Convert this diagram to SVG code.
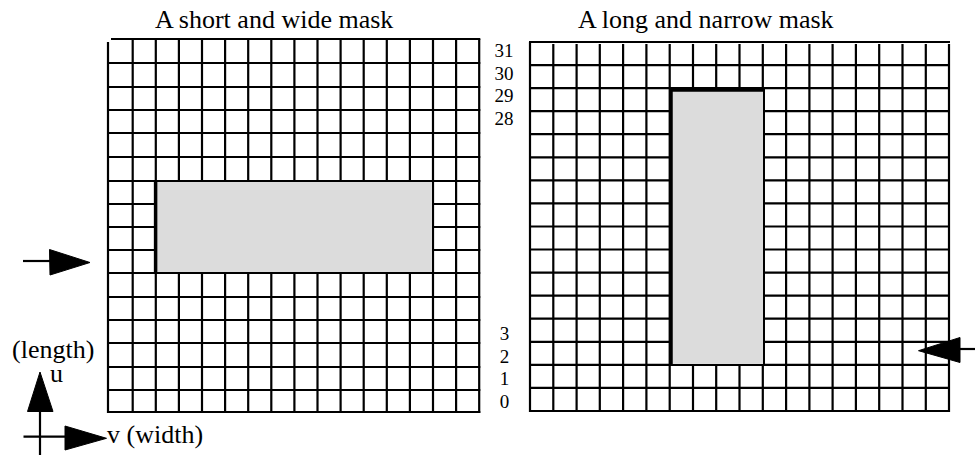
<svg xmlns="http://www.w3.org/2000/svg" width="975" height="455" viewBox="0 0 975 455">
<style>
.g{fill:none;stroke:#000;stroke-width:2.2}
.t{font-family:"Liberation Serif","Times New Roman",serif;fill:#000}
.title{font-size:26px}
.num{font-size:19px;text-anchor:middle}
.lab{font-size:26px}
.mask{fill:#dcdcdc;stroke:#000;stroke-width:2}
.thick{stroke:#000;stroke-width:3.5;fill:none}
.ah{fill:#000;stroke:#000;stroke-width:1}
.ln{stroke:#000;stroke-width:2.2;fill:none}
</style>
<rect width="975" height="455" fill="#fff"/>
<g id="left-grid">
<path class="g" d="M108 42V413M132.7 39V413M155.8 39V413M178.9 39V413M202 39V413M225.1 39V413M248.2 39V413M271.3 39V413M294.4 39V413M317.5 39V413M340.6 39V413M363.7 39V413M386.8 39V413M409.9 39V413M433 39V413M456.1 39V413M479.2 39V413"/>
<path class="g" d="M111 39H480.3M109 63H480.3M109 87H480.3M109 110H480.3M109 133H480.3M109 157H480.3M109 181H480.3M109 204H480.3M109 227H480.3M109 250H480.3M109 273H480.3M109 297H480.3M109 320H480.3M109 343H480.3M109 367H480.3M109 390H480.3M109 412H480.3"/>
</g>
<g id="left-mask">
<rect class="mask" x="155.8" y="181" width="277.2" height="92"/>
<path class="thick" d="M155.6 180V274"/>
</g>
<g id="right-grid">
<path class="g" d="M530 42V412M553.3 44V412M576.6 44V412M599.8 44V412M623.1 44V412M646.4 44V412M669.7 44V412M693 44V412M716.2 44V412M739.5 44V412M762.8 44V412M786.1 44V412M809.4 44V412M832.6 44V412M855.9 44V412M879.2 44V412M902.5 44V412M925.8 44V412M949 44V412"/>
<path class="g" d="M529 42H950M529 65.1H950M529 88.1H950M529 111.2H950M529 134.2H950M529 157.3H950M529 180.4H950M529 203.4H950M529 226.5H950M529 249.5H950M529 272.6H950M529 295.7H950M529 318.7H950M529 341.8H950M529 364.8H950M529 387.9H950M529 411H950"/>
</g>
<g id="right-mask">
<rect class="mask" x="670" y="89" width="94" height="276"/>
<path class="thick" d="M671 88V365M669 90H765"/>
</g>
<g id="titles">
<text class="t title" x="155" y="28">A short and wide mask</text>
<text class="t title" x="578" y="28">A long and narrow mask</text>
</g>
<g id="row-labels">
<text class="t num" x="504" y="56.7">31</text>
<text class="t num" x="504" y="80">30</text>
<text class="t num" x="504" y="101.7">29</text>
<text class="t num" x="504" y="125">28</text>
<text class="t num" x="504.5" y="340">3</text>
<text class="t num" x="504.5" y="363.3">2</text>
<text class="t num" x="504.5" y="385">1</text>
<text class="t num" x="504.5" y="408.3">0</text>
</g>
<g id="axis-labels">
<text class="t lab" x="12" y="358">(length)</text>
<text class="t lab" x="50" y="381.5">u</text>
<text class="t lab" x="107" y="443">v (width)</text>
</g>
<g id="connectors">
<path class="ln" d="M23 261H50"/>
<polygon class="ah" points="49.5,249.5 90,262.5 50,275"/>
<path class="ln" d="M960 349H975"/>
<polygon class="ah" points="960,337.5 918.5,350.7 960,362.5"/>
<path class="ln" d="M40 411V455M23.5 436.7H65"/>
<polygon class="ah" points="40,372 27.5,411.5 53,411.5"/>
<polygon class="ah" points="65,426 106.5,438.3 65,450"/>
</g>
</svg>
